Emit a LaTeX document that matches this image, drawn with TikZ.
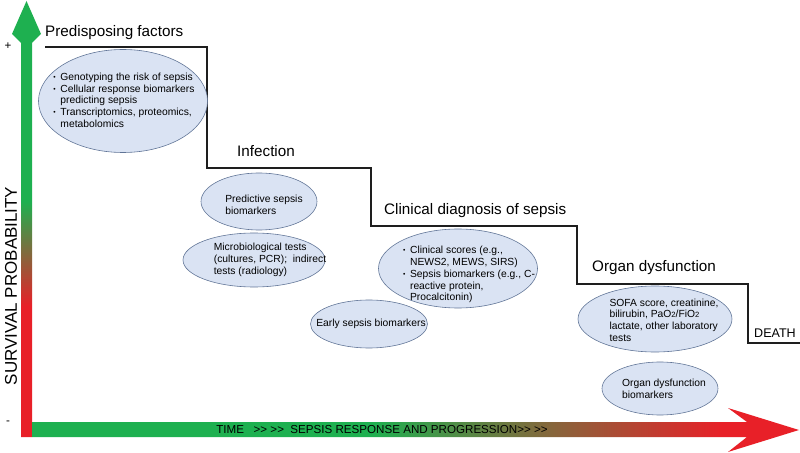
\documentclass[tikz,border=0pt]{standalone}
\usepackage{fontspec}
\setmainfont{Liberation Sans}
\usetikzlibrary{positioning,shapes.geometric}

\definecolor{axgreen}{RGB}{30,176,80}
\definecolor{axred}{RGB}{232,32,40}
\definecolor{bubfill}{RGB}{218,227,243}
\definecolor{bubline}{RGB}{96,116,150}
\definecolor{stepline}{RGB}{30,30,30}

\pgfdeclarehorizontalshading{timeshade}{100bp}{color(0bp)=(axgreen); color(47bp)=(axgreen); color(70bp)=(axred); color(100bp)=(axred)}
\pgfdeclareverticalshading{survshade}{100bp}{color(0bp)=(axred); color(40bp)=(axred); color(52bp)=(axgreen); color(100bp)=(axgreen)}

\newcommand{\bul}{\raisebox{0.2ex}{\scalebox{0.65}{\textbullet}}}
\newcommand{\lowtwo}{{\fontsize{6.5}{6.5}\selectfont 2}}
\newcommand{\fwd}{>\kern0pt>}

\begin{document}
\begin{tikzpicture}[
    x=0.03cm, y=-0.03cm,
    bubble/.style={ellipse,draw=bubline,fill=bubfill,line width=0.5pt,inner sep=0pt},
    bubtext/.style={inner sep=0pt,align=left,font=\fontsize{8.8}{10}\selectfont},
    stagelabel/.style={anchor=west,inner sep=0pt,font=\fontsize{13}{15}\selectfont},
    axislabel/.style={inner sep=0pt,font=\fontsize{9.9}{12}\selectfont}
]
    \useasboundingbox (0,0) rectangle (800,453);

    % Axes
    \shade[shading=survshade] (21,437) -- (21,43) -- (12,34) -- (26.5,1) -- (41,34) -- (32,43) -- (32,437) -- cycle;
    \shade[shading=timeshade] (32,422) -- (747,422) -- (728,408) -- (799,430) -- (728,452) -- (747,437) -- (32,437) -- cycle;

    % Survival steps
    \draw[stepline,line width=1.2pt] (45,47) -- (207,47) -- (207,168) -- (371,168) -- (371,226)
        -- (577,226) -- (577,284) -- (748,284) -- (748,343) -- (800,343);

    % Define nodes
    \node[stagelabel] (predlbl) at (45,33) {Predisposing factors};
    \node[stagelabel] (inflbl) at (237,151) {Infection};
    \node[stagelabel] (diaglbl) at (384,211) {Clinical diagnosis of sepsis};
    \node[stagelabel] (organlbl) at (592,268) {Organ dysfunction};
    \node[stagelabel,font=\fontsize{10.7}{12}\selectfont] (deathlbl) at (754,333) {DEATH};

    \node[bubble,minimum width=5.07cm,minimum height=3.09cm] (predis) at (123,101) {};
    \node[bubble,minimum width=3.48cm,minimum height=1.71cm] (predict) at (259,201.5) {};
    \node[bubble,minimum width=4.26cm,minimum height=1.62cm] (micro) at (254,260) {};
    \node[bubble,minimum width=4.77cm,minimum height=2.37cm] (clin) at (458,268.5) {};
    \node[bubble,minimum width=3.51cm,minimum height=1.44cm] (early) at (369,324) {};
    \node[bubble,minimum width=4.62cm,minimum height=1.98cm] (sofa) at (655,319) {};
    \node[bubble,minimum width=3.48cm,minimum height=1.59cm] (organbio) at (660,388.5) {};

    \node[bubtext] (predistxt) at (124,101.5) {\begin{tabular}{@{}l@{\hspace{4pt}}l@{}}
        \bul & Genotyping the risk of sepsis\\
        \bul & Cellular response biomarkers\\
             & predicting sepsis\\
        \bul & Transcriptomics, proteomics,\\
             & metabolomics
        \end{tabular}};
    \node[bubtext] (predicttxt) at (264,205) {Predictive sepsis\\biomarkers};
    \node[bubtext] (microtxt) at (270,260) {Microbiological tests\\(cultures, PCR);\ \ indirect\\tests (radiology)};
    \node[bubtext] (clintxt) at (469,275) {\begin{tabular}{@{}l@{\hspace{4pt}}l@{}}
        \bul & Clinical scores (e.g.,\\
             & NEWS2, MEWS, SIRS)\\
        \bul & Sepsis biomarkers (e.g., C-\\
             & reactive protein,\\
             & Procalcitonin)
        \end{tabular}};
    \node[bubtext] (earlytxt) at (371,324) {Early sepsis biomarkers};
    \node[bubtext] (sofatxt) at (664,320) {SOFA score, creatinine,\\bilirubin, PaO\lowtwo/FiO\lowtwo\\lactate, other laboratory\\tests};
    \node[bubtext] (organbiotxt) at (664,388.5) {Organ dysfunction\\biomarkers};

    % Axis labels
    \node[axislabel] (timelbl) at (382,430) {TIME\ \ \ \fwd\ \fwd\ \ SEPSIS RESPONSE AND PROGRESSION\fwd\ \fwd};
    \node[axislabel,rotate=90,font=\fontsize{14.5}{16}\selectfont] (survlbl) at (11,286) {SURVIVAL PROBABILITY};
    \node[axislabel] (plus) at (8,46) {+};
    \node[axislabel] (minus) at (8,423) {-};
\end{tikzpicture}
\end{document}
